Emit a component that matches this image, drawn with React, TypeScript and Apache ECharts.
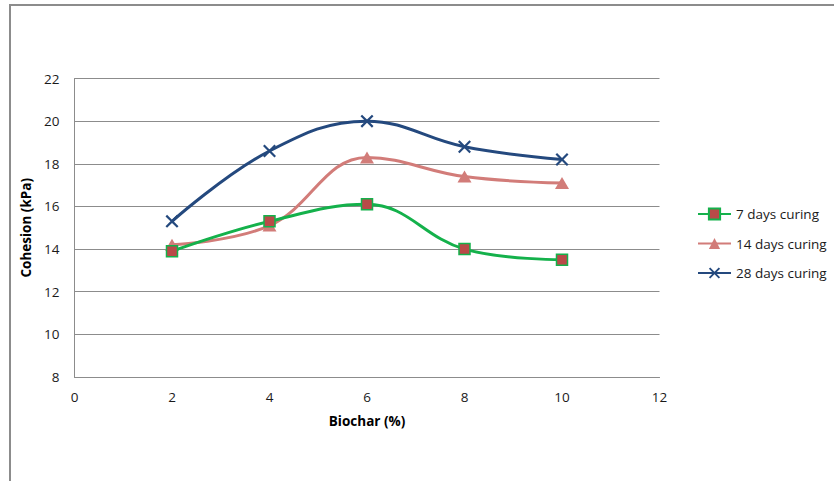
import React, { useEffect, useRef } from "react";
import * as echarts from "echarts";

const biochar = [2, 4, 6, 8, 10];
const days7 = [13.9, 15.3, 16.1, 14.0, 13.5];
const days14 = [14.2, 15.1, 18.3, 17.4, 17.1];
const days28 = [15.3, 18.6, 20.0, 18.8, 18.2];
const seriesNames = ["7 days curing", "14 days curing", "28 days curing"];

const FONT = "'Open Sans', 'Noto Sans', sans-serif";
const X_SYMBOL =
  "path://M0,1.2 L1.2,0 L5,3.8 L8.8,0 L10,1.2 L6.2,5 L10,8.8 L8.8,10 L5,6.2 L1.2,10 L0,8.8 L3.8,5 Z";

export default function App() {
  const ref = useRef<HTMLDivElement>(null);
  useEffect(() => {
    if (!ref.current) return;
    const chart = echarts.init(ref.current, undefined, { renderer: "svg" });
    const pair = (ys: number[]) => biochar.map((x, i) => [x, ys[i]]);
    chart.setOption({
      animation: false,
      backgroundColor: "#ffffff",
      textStyle: { fontFamily: FONT },
      graphic: [
        {
          type: "rect",
          shape: { x: 10, y: 5, width: 840, height: 500 },
          style: { fill: "none", stroke: "#8c8c8c", lineWidth: 2 },
          silent: true,
        },
      ],
      grid: { left: 74.5, top: 78.5, width: 585, height: 298.5, containLabel: false },
      legend: {
        orient: "vertical",
        left: 697,
        top: 207,
        padding: 0,
        itemGap: 15.5,
        itemWidth: 33,
        itemHeight: 14,
        textStyle: { fontFamily: FONT, fontSize: 13.5, color: "#1a1a1a" },
        data: seriesNames,
      },
      xAxis: {
        type: "value",
        min: 0,
        max: 12,
        interval: 2,
        name: "Biochar (%)",
        nameLocation: "middle",
        nameGap: 37,
        nameTextStyle: { fontFamily: FONT, fontSize: 13.5, fontWeight: "bold", color: "#000" },
        axisLine: { show: true, lineStyle: { color: "#8c8c8c", width: 1 } },
        axisTick: { show: false },
        axisLabel: { fontFamily: FONT, fontSize: 13.5, color: "#1a1a1a", margin: 13 },
        splitLine: { show: false },
      },
      yAxis: {
        type: "value",
        min: 8,
        max: 22,
        interval: 2,
        name: "Cohesion (kPa)",
        nameLocation: "middle",
        nameGap: 39,
        nameTextStyle: { fontFamily: FONT, fontSize: 13.5, fontWeight: "bold", color: "#000" },
        axisLine: { show: true, lineStyle: { color: "#8c8c8c", width: 1 } },
        axisTick: { show: false },
        axisLabel: { fontFamily: FONT, fontSize: 13.5, color: "#1a1a1a", margin: 15 },
        splitLine: { show: true, lineStyle: { color: "#8c8c8c", width: 1 } },
      },
      series: [
        {
          name: seriesNames[0],
          type: "line",
          data: pair(days7),
          smooth: 0.4,
          symbol: "rect",
          symbolSize: 11,
          lineStyle: { color: "#14b14b", width: 3 },
          itemStyle: { color: "#b94a48", borderColor: "#14b14b", borderWidth: 1.5 },
          z: 3,
        },
        {
          name: seriesNames[1],
          type: "line",
          data: pair(days14),
          smooth: 0.4,
          symbol: "triangle",
          symbolSize: [14, 12],
          lineStyle: { color: "#d27c79", width: 3 },
          itemStyle: { color: "#d27c79", borderWidth: 0 },
          z: 2,
        },
        {
          name: seriesNames[2],
          type: "line",
          data: pair(days28),
          smooth: 0.4,
          symbol: X_SYMBOL,
          symbolSize: 13,
          lineStyle: { color: "#24497e", width: 3 },
          itemStyle: { color: "#24497e", borderWidth: 0 },
          z: 4,
        },
      ],
    });
    return () => chart.dispose();
  }, []);
  return (
    <div
      ref={ref}
      style={{ position: "absolute", left: 0, top: 0, width: 834, height: 481 }}
    />
  );
}
